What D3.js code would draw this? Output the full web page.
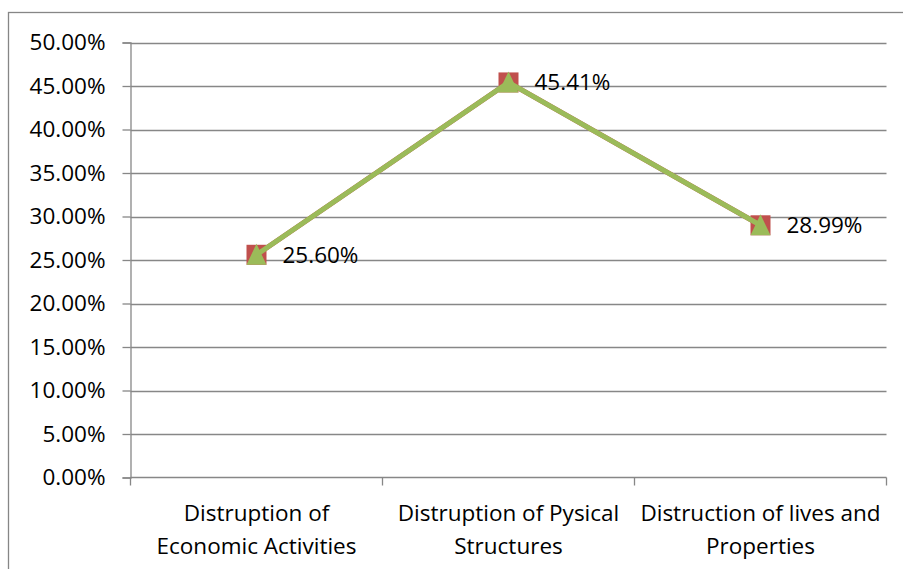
<!DOCTYPE html>
<html><head><meta charset="utf-8">
<script src="https://cdn.jsdelivr.net/npm/d3@7"></script>
<style>body{margin:0;background:#fff}svg{display:block}text{font-family:"Open Sans",sans-serif;fill:#000}</style>
</head><body><svg id="c" width="903" height="569"></svg>
<script>
const categories = [["Distruption of","Economic Activities"],["Distruption of Pysical","Structures"],["Distruction of lives and","Properties"]];
const values = [0.2560, 0.4541, 0.2899];
const yTicks = [0,0.05,0.10,0.15,0.20,0.25,0.30,0.35,0.40,0.45,0.50];

const svg = d3.select("#c");
const m = {l:130.5, r:886.5, t:42.5, b:477.5};
svg.append("rect").attr("x",8.5).attr("y",12.5).attr("width",910).attr("height",600)
  .attr("fill","none").attr("stroke","#868686").attr("stroke-width",1.3);

const x = d3.scaleBand().domain(d3.range(categories.length)).range([m.l,m.r]).padding(0);
const y = d3.scaleLinear().domain([0,0.5]).range([m.b,m.t]);
const fmt = d => (d*100).toFixed(2)+"%";
const FS = "22.5px";

// gridlines
svg.append("g").selectAll("line").data(yTicks.slice(1)).join("line")
  .attr("x1",m.l).attr("x2",m.r).attr("y1",d=>Math.round(y(d))+0.5).attr("y2",d=>Math.round(y(d))+0.5)
  .attr("stroke","#878787").attr("stroke-width",1.3);

// y axis
const ya = svg.append("g").attr("transform",`translate(${m.l},0)`)
  .call(d3.axisLeft(y).tickValues(yTicks).tickFormat(fmt).tickSize(8).tickPadding(17));
ya.selectAll("path,line").attr("stroke","#878787").attr("stroke-width",1.3);
ya.selectAll("text").attr("font-size",FS).attr("font-family","Open Sans, sans-serif");

// x axis
const xa = svg.append("g").attr("transform",`translate(0,${m.b})`);
xa.append("line").attr("x1",m.l).attr("x2",m.r).attr("stroke","#878787").attr("stroke-width",1.3);
const edges = [0,1,2].map(i=>x(i)).concat([m.r]);
xa.selectAll("line.t").data(edges).join("line").attr("class","t")
  .attr("x1",d=>d).attr("x2",d=>d).attr("y1",0).attr("y2",8).attr("stroke","#878787").attr("stroke-width",1.3);
const lbl = xa.selectAll("text.c").data(categories).join("text").attr("class","c")
  .attr("x",(d,i)=>x(i)+x.bandwidth()/2).attr("text-anchor","middle").attr("font-size",FS);
lbl.each(function(d){
  const t=d3.select(this);
  d.forEach((s,j)=>t.append("tspan").attr("x",t.attr("x")).attr("y",43+j*33).text(s));
});

const cx = i => x(i)+x.bandwidth()/2;
const line = d3.line().x((d,i)=>cx(i)).y(d=>y(d));
// series 1 (red squares)
svg.append("path").datum(values).attr("d",line).attr("fill","none").attr("stroke","#C0504D").attr("stroke-width",5);
svg.selectAll("rect.m").data(values).join("rect").attr("class","m")
  .attr("x",(d,i)=>cx(i)-10).attr("y",d=>y(d)-10).attr("width",20).attr("height",20).attr("fill","#C0504D");
// series 2 (green triangles)
svg.append("path").datum(values).attr("d",line).attr("fill","none").attr("stroke","#9BBB59").attr("stroke-width",5).attr("stroke-linejoin","miter");
svg.selectAll("path.tri").data(values).join("path").attr("class","tri")
  .attr("d",(d,i)=>{const X=cx(i),Y=y(d);return `M${X},${Y-11}L${X+10},${Y+10}L${X-10},${Y+10}Z`;})
  .attr("fill","#9BBB59");
// data labels
svg.selectAll("text.v").data(values).join("text").attr("class","v")
  .attr("x",(d,i)=>cx(i)+26).attr("y",d=>y(d)+8).attr("font-size",FS).text(fmt);
</script></body></html>
